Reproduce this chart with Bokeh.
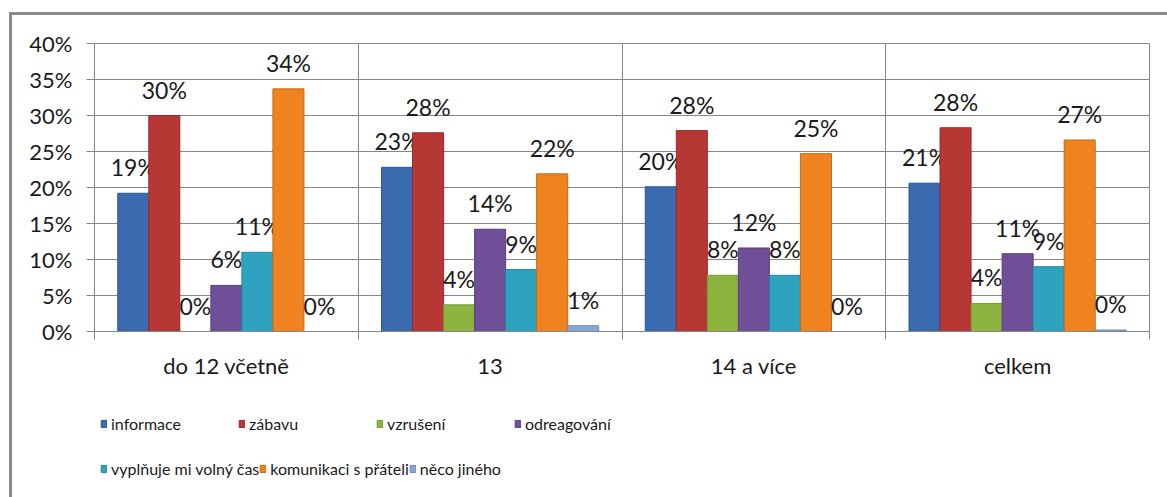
import numpy as np
from bokeh.plotting import figure
from bokeh.layouts import column
from bokeh.models import ColumnDataSource, Range1d, FixedTicker, Legend, LegendItem
from bokeh.core.properties import value
from bokeh.embed import file_html
from bokeh.resources import INLINE

# ---- data ----
categories = ["do 12 včetně", "13", "14 a více", "celkem"]
series_names = ["informace", "zábavu", "vzrušení", "odreagování",
                "vyplňuje mi volný čas", "komunikaci s přáteli", "něco jiného"]
informace = [19.2, 22.8, 20.1, 20.6]
zabavu = [30.0, 27.6, 27.9, 28.3]
vzruseni = [0.0, 3.7, 7.8, 3.9]
odreagovani = [6.4, 14.2, 11.6, 10.8]
vyplnuje = [11.0, 8.6, 7.8, 9.0]
komunikaci = [33.7, 21.9, 24.7, 26.6]
neco_jineho = [0.0, 0.8, 0.0, 0.2]
y_ticks = [0, 5, 10, 15, 20, 25, 30, 35, 40]
y_tick_labels = ["0%", "5%", "10%", "15%", "20%", "25%", "30%", "35%", "40%"]

series_values = [informace, zabavu, vzruseni, odreagovani, vyplnuje, komunikaci, neco_jineho]
colors = ["#3a6bb0", "#b73734", "#8db43f", "#6f4f98", "#2fa2c0", "#f0821f", "#8aa6d8"]
edges = ["#2d5794", "#972b29", "#769a30", "#5a3e7e", "#23869f", "#c96912", "#6a89bf"]

FONT = "Lato"
TXT = "#1a1a1a"
GRID = "#868686"

n_cat = len(categories)
n_ser = len(series_names)
bar_w = 1.0 / (n_ser + 1.5)
centers = np.arange(n_cat) + 0.5

W = 1155
H_MAIN = 380
H_LEG = 102

p = figure(width=W, height=H_MAIN, output_backend="svg", toolbar_location=None,
           x_range=Range1d(0, n_cat), y_range=Range1d(0, 40),
           min_border_left=82, min_border_right=18, min_border_top=28, min_border_bottom=64)
p.background_fill_color = "white"
p.border_fill_color = "white"
p.outline_line_color = GRID
p.outline_line_width = 1

for i, (name, vals) in enumerate(zip(series_names, series_values)):
    xs = centers + (i - (n_ser - 1) / 2) * bar_w
    src = ColumnDataSource(dict(x=xs, top=vals,
                                label=[f"{round(v)}%" for v in vals]))
    p.vbar(x="x", top="top", width=bar_w, bottom=0, source=src,
           fill_color=colors[i], line_color=edges[i], line_width=1)
    p.text(x="x", y="top", text="label", source=src,
           text_font=value(FONT), text_font_size="23px", text_color=TXT,
           text_align="center", text_baseline="middle", y_offset=-26)

# y axis
p.yaxis.ticker = FixedTicker(ticks=y_ticks)
p.yaxis.major_label_overrides = {t: l for t, l in zip(y_ticks, y_tick_labels)}
p.yaxis.major_label_text_font = FONT
p.yaxis.major_label_text_font_size = "22px"
p.yaxis.major_label_text_color = TXT
p.yaxis.axis_line_color = GRID
p.yaxis.major_tick_line_color = GRID
p.yaxis.major_tick_out = 8
p.yaxis.major_tick_in = 0
p.yaxis.minor_tick_line_color = None
p.yaxis.major_label_standoff = 14

# x axis
p.xaxis.ticker = FixedTicker(ticks=list(centers), minor_ticks=list(range(n_cat + 1)))
p.xaxis.major_label_overrides = {float(c): l for c, l in zip(centers, categories)}
p.xaxis.major_label_text_font = FONT
p.xaxis.major_label_text_font_size = "22px"
p.xaxis.major_label_text_color = TXT
p.xaxis.axis_line_color = GRID
p.xaxis.major_tick_line_color = None
p.xaxis.major_tick_out = 0
p.xaxis.major_tick_in = 0
p.xaxis.minor_tick_line_color = GRID
p.xaxis.minor_tick_out = 8
p.xaxis.minor_tick_in = 0
p.xaxis.major_label_standoff = 12

p.ygrid.ticker = FixedTicker(ticks=y_ticks)
p.ygrid.grid_line_color = GRID
p.xgrid.ticker = FixedTicker(ticks=list(range(1, n_cat)))
p.xgrid.grid_line_color = GRID

# ---- legend strip (own figure so the legend is not clipped by the plot frame) ----
q = figure(width=W, height=H_LEG, output_backend="svg", toolbar_location=None,
           x_axis_location=None, y_axis_location=None,
           x_range=Range1d(0, 1), y_range=Range1d(0, 1),
           min_border=0, min_border_left=0, min_border_right=0,
           min_border_top=0, min_border_bottom=0)
q.outline_line_color = None
q.grid.visible = False
q.background_fill_color = "white"
q.border_fill_color = "white"

# legend swatch renderers, placed outside the visible range
swatches = []
for i in range(n_ser):
    swatches.append(q.vbar(x=[-10], top=[-10], bottom=[-11], width=0.1,
                           fill_color=colors[i], line_color=edges[i], line_width=1))


def make_legend(idx, loc):
    return Legend(items=[LegendItem(label=series_names[k], renderers=[swatches[k]]) for k in idx],
                  orientation="horizontal", location=loc,
                  glyph_width=7, glyph_height=9, label_standoff=4, label_width=127,
                  label_height=9, spacing=0, padding=0, margin=0,
                  border_line_color=None, background_fill_alpha=0,
                  label_text_font=FONT, label_text_font_size="16px",
                  label_text_color=TXT)

q.add_layout(make_legend([0, 1, 2, 3], (6, 64)))
q.add_layout(make_legend([4, 5, 6], (6, 19)))

layout = column(p, q, spacing=0, margin=(12, 0, 0, 9),
                styles={"border-left": "3px solid #8a8a8a", "border-top": "3px solid #8a8a8a"})

open("out.html", "w").write(file_html(layout, INLINE))
